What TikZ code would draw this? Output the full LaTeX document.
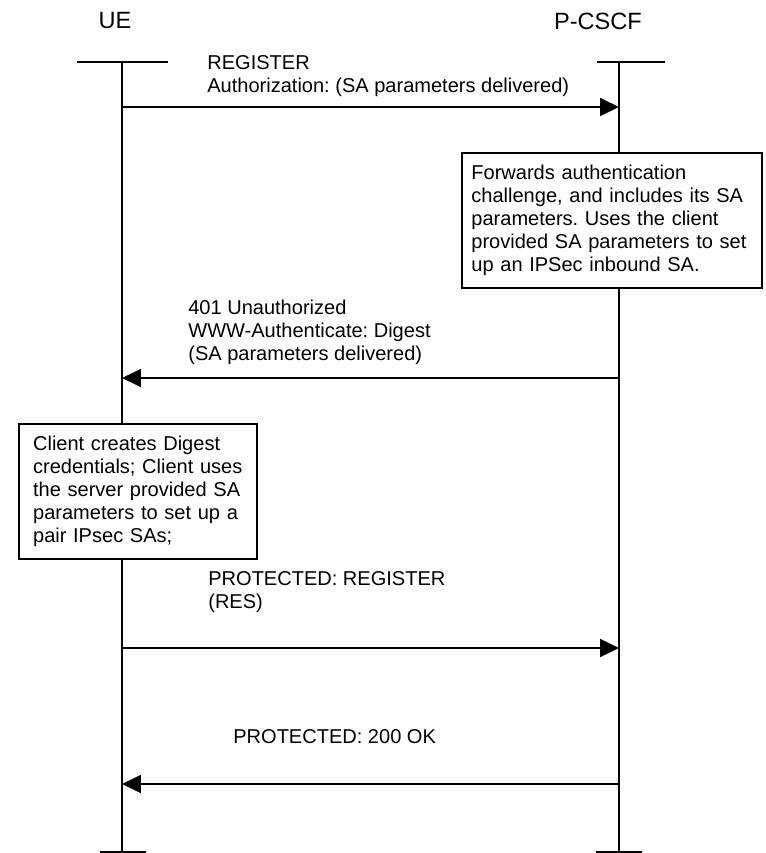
\documentclass[tikz,border=0pt]{standalone}
\usepackage{fontspec}
\setmainfont{Liberation Sans}
\usetikzlibrary{arrows.meta}

\def\msgfont{\fontsize{11.4}{13.1}\selectfont}

\begin{document}
\frenchspacing
\begin{tikzpicture}[x=0.02cm,y=-0.02cm]
		\tikzstyle{entity}=[font=\fontsize{13.4}{16}\selectfont,inner sep=0pt]
		\tikzstyle{life}=[line width=1.05pt]
		\tikzstyle{msg}=[line width=1.05pt,-{Triangle[length=0.38cm,width=0.36cm]}]
		\tikzstyle{msgtext}=[font=\msgfont,align=left,anchor=west,inner sep=0pt]
		\tikzstyle{notebox}=[draw,line width=1.05pt,fill=white,font=\msgfont,align=left,minimum height=2.7cm]

		\useasboundingbox (0,0) rectangle (765,853);

			% Draw the entities
		\node[entity] (ue) at (115,21) {UE};
		\node[entity] (pcscf) at (598,21) {P-CSCF};

			% Draw the lifelines, with a bar at each end
		\foreach \name / \x / \tl / \tr / \bl / \br in {ue/122/77/168/100/146, pc/619/597/665/596/642} {
			\coordinate (\name-top) at (\x,62);
			\coordinate (\name-bot) at (\x,852);
			\draw[life] (\tl,62) -- (\tr,62);
			\draw[life] (\bl,852) -- (\br,852);
			\draw[life] (\name-top) -- (\name-bot);
		}

			% End points of the messages on the lifelines
		\foreach \msg / \y in {1/107, 2/378, 3/648, 4/784} {
			\coordinate (ue-\msg) at (122,\y);
			\coordinate (pc-\msg) at (619,\y);
		}

			% REGISTER
		\node[msgtext] (m1) at (207,76) {REGISTER\\Authorization: (SA parameters delivered)};
		\draw[msg] (ue-1) -- (pc-1);

			% P-CSCF note
		\node[notebox,text width=5.62cm,inner xsep=0.19cm,anchor=north west] (pcnote) at (461,152)
		{Forwards authentication\\challenge, and includes its SA\\parameters. Uses the client\\provided SA parameters to set\\up an IPSec inbound SA.};

			% 401 Unauthorized
		\node[msgtext] (m2) at (188,332) {401 Unauthorized\\WWW-Authenticate: Digest\\(SA parameters delivered)};
		\draw[msg] (pc-2) -- (ue-2);

			% UE note
		\node[notebox,text width=4.2cm,inner xsep=0.28cm,anchor=north east] (uenote) at (258,423)
		{Client creates Digest\\credentials; Client uses\\the server provided SA\\parameters to set up a\\pair IPsec SAs;};

			% protected REGISTER
		\node[msgtext] (m3) at (208,592) {PROTECTED: REGISTER\\(RES)};
		\draw[msg] (ue-3) -- (pc-3);

			% protected 200 OK
		\node[msgtext] (m4) at (233,737) {PROTECTED: 200 OK};
		\draw[msg] (pc-4) -- (ue-4);
\end{tikzpicture}
\end{document}
